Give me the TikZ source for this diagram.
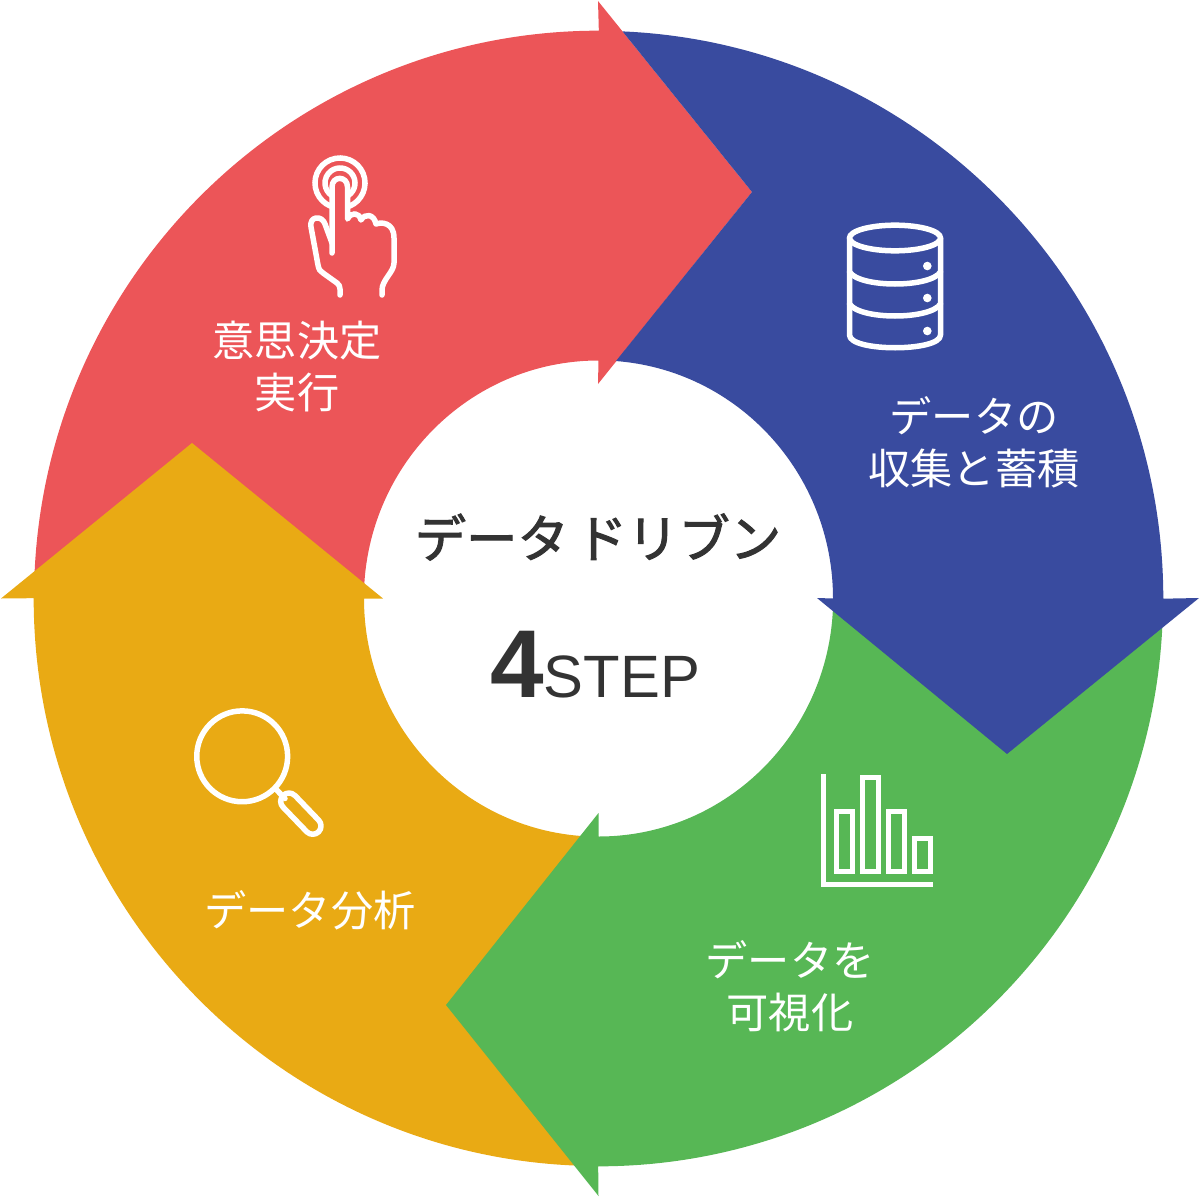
\documentclass[tikz,border=0pt]{standalone}
\usepackage{fontspec}
\setmainfont{Noto Sans CJK JP}
\newfontfamily\titlefont[FakeBold=2]{Noto Sans CJK JP}
\newfontfamily\numfont{Liberation Sans}
\definecolor{decidered}{HTML}{EC5558}
\definecolor{storeblue}{HTML}{394B9F}
\definecolor{viewgreen}{HTML}{57B755}
\definecolor{findyellow}{HTML}{E9AA14}
\definecolor{centergray}{HTML}{333333}
\tikzset{
    steplabel/.style={text=white, align=center, font=\fontsize{12}{14.8}\selectfont},
    iconline/.style={draw=white, line width=0.055cm, line cap=round, line join=round},
    barline/.style={draw=white, line width=0.05cm, line join=miter},
}
\begin{document}
\begin{tikzpicture}[x=0.01cm, y=-0.01cm]
    \useasboundingbox (0,0) rectangle (1200,1197);

    % Ring arrows
    \fill[decidered] (34,598.5) arc[start angle=180, end angle=90, x radius=5.645cm, y radius=5.675cm]
        -- (598,1) -- (752,192) -- (598,384) -- (598.5,360.5)
        arc[start angle=90, end angle=180, x radius=2.345cm, y radius=2.38cm] -- cycle;
    \fill[findyellow] (598.5,1166) arc[start angle=270, end angle=180, x radius=5.645cm, y radius=5.675cm]
        -- (1,598.5) -- (192,443) -- (383,598.5) -- (364,598.5)
        arc[start angle=180, end angle=270, x radius=2.345cm, y radius=2.38cm] -- cycle;
    \fill[viewgreen] (1163,598.5) arc[start angle=0, end angle=-90, x radius=5.645cm, y radius=5.675cm]
        -- (598.5,1196) -- (446,1005) -- (598.5,813) -- (598.5,836.5)
        arc[start angle=-90, end angle=0, x radius=2.345cm, y radius=2.38cm] -- cycle;
    \fill[storeblue] (622.5,31.4) arc[start angle=87.56, end angle=0, x radius=5.645cm, y radius=5.675cm]
        -- (1199,598) -- (1007,754) -- (817,598) -- (833,598.5)
        arc[start angle=0, end angle=85.7, x radius=2.345cm, y radius=2.38cm]
        -- (752,192) -- cycle;

    % Hand
    \draw[iconline] (340,183) ++(-68:0.25cm) arc[start angle=-68, end angle=248, radius=0.25cm];
    \draw[iconline] (340,183) ++(-55:0.15cm) arc[start angle=-55, end angle=235, radius=0.15cm];
    \draw[iconline] (332,253) -- (332,187) .. controls (332,175.5) and (347.5,175.5) .. (347.5,187)
        -- (347.5,219) .. controls (351,212) and (359,212) .. (361,220)
        .. controls (365,213) and (374,214) .. (376,224)
        .. controls (381,222) and (394,222) .. (394,238) -- (394,263)
        .. controls (394,272) and (382,280) .. (382,290) -- (382,295);
    \draw[iconline] (332,243) -- (325,224) .. controls (322,215) and (309,216) .. (311,227)
        -- (318,265) .. controls (319,270) and (320,271) .. (323,273) -- (337,283)
        .. controls (339,285) and (340,286) .. (340,289) -- (340,295);

    % Database
    \draw[iconline] (895,238) ellipse[x radius=0.455cm, y radius=0.128cm];
    \draw[iconline] (849.5,238) -- (849.5,335) .. controls (849.5,352) and (940.5,352) .. (940.5,335) -- (940.5,238);
    \draw[iconline] (849.5,272) .. controls (860,288) and (930,288) .. (940.5,272);
    \draw[iconline] (849.5,304) .. controls (860,320) and (930,320) .. (940.5,304);
    \foreach \y in {266,298,331}
        \fill[white] (927.3,\y) circle (0.043cm);

    % Bar chart
    \draw[barline] (823.2,774) -- (823.2,884.3) -- (933.3,884.3);
    \draw[barline] (836.5,811) rectangle (852.3,871);
    \draw[barline] (862.5,777) rectangle (878.5,871);
    \draw[barline] (888.5,811) rectangle (904.5,871);
    \draw[barline] (914.5,838.7) rectangle (930.5,871);

    % Magnifier
    \draw[iconline] (242.2,756.3) circle (0.454cm);
    \draw[iconline] (276.7,790) -- (285,798.5);
    \draw[iconline] (294.9,795.4) -- (318.6,820.1) arc[start angle=45, end angle=-135, radius=0.083cm]
        -- (283.1,807.2) arc[start angle=-135, end angle=-315, radius=0.083cm] -- cycle;

    % Labels
    \node[steplabel] (decide) at (297,367) {意思決定\\実行};
    \node[steplabel] (store) at (974,442) {データの\\収集と蓄積};
    \node[steplabel] (view) at (790,986) {データを\\可視化};
    \node[steplabel] (find) at (310,910) {データ分析};

    % Center
    \node[text=centergray, font=\titlefont\fontsize{14.6}{18}\selectfont] (title) at (598,537) {データ\hspace{0.07cm}ドリブン};
    \node[text=centergray, inner sep=0pt, anchor=base] (steps) at (595,697)
        {{\numfont\fontsize{27.4}{30}\selectfont\bfseries 4}{\numfont\fontsize{17}{20}\selectfont STEP}};
\end{tikzpicture}
\end{document}
